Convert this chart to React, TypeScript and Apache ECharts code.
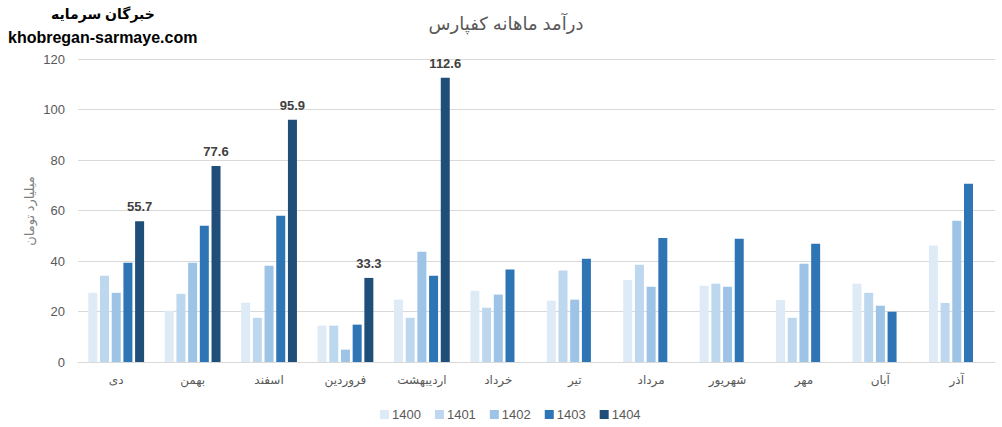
import React, { useEffect, useRef } from "react";
import * as echarts from "echarts";

const categories = ["دی", "بهمن", "اسفند", "فروردین", "اردیبهشت", "خرداد", "تیر", "مرداد", "شهریور", "مهر", "آبان", "آذر"];
const seriesNames = ["1400", "1401", "1402", "1403", "1404"];
const v1400 = [27.4, 20.3, 23.5, 14.4, 24.7, 28.2, 24.3, 32.5, 30.2, 24.6, 31.0, 46.1];
const v1401 = [34.2, 27.0, 17.5, 14.4, 17.5, 21.5, 36.2, 38.5, 31.0, 17.5, 27.4, 23.4];
const v1402 = [27.4, 39.3, 38.1, 4.9, 43.7, 26.7, 24.7, 29.8, 29.8, 38.9, 22.3, 55.9];
const v1403 = [39.3, 54.0, 57.9, 14.8, 34.2, 36.6, 40.9, 49.1, 48.8, 46.8, 19.9, 70.6];
const v1404 = [55.7, 77.6, 95.9, 33.3, 112.6, null, null, null, null, null, null, null];
const colors = ["#DEEBF7", "#BDD7EE", "#9DC3E6", "#2E75B6", "#1F4E79"];
const yTicks = [0, 20, 40, 60, 80, 100, 120];
const yAxisTitle = "میلیارد تومان";

const FONT = "'Liberation Sans', 'DejaVu Sans', sans-serif";

export default function App() {
  const ref = useRef<HTMLDivElement>(null);
  useEffect(() => {
    document.body.style.margin = "0";
    const chart = echarts.init(ref.current!, null, { renderer: "svg" });
    const all = [v1400, v1401, v1402, v1403, v1404];
    chart.setOption({
      animation: false,
      textStyle: { fontFamily: FONT },
      title: {
        text: "درآمد ماهانه کفپارس",
        left: 501,
        top: 10,
        textAlign: "center",
        textStyle: { fontSize: 18, fontWeight: "normal", color: "#595959", fontFamily: FONT },
      },
      graphic: [
        { type: "text", left: 51, top: 7, style: { text: "خبرگان سرمایه", font: "bold 14px " + FONT, fill: "#000", width: 100, align: "center" } },
        { type: "text", left: 8, top: 29, style: { text: "khobregan-sarmaye.com", font: "bold 16px " + FONT, fill: "#000" } },
        {
          type: "text",
          x: 29,
          y: 211,
          rotation: Math.PI / 2,
          style: { text: yAxisTitle, font: "13px " + FONT, fill: "#7F7F7F", align: "center", verticalAlign: "middle" },
        },
      ],
      legend: {
        data: seriesNames,
        bottom: 1,
        left: 375,
        itemWidth: 9,
        itemHeight: 9,
        itemGap: 14,
        icon: "rect",
        textStyle: { fontSize: 13, color: "#595959", fontFamily: FONT, padding: [0, 0, 0, -2] },
      },
      grid: { left: 78, right: 7, top: 59, bottom: 65, containLabel: false },
      xAxis: {
        type: "category",
        data: categories,
        axisTick: { show: false },
        axisLine: { lineStyle: { color: "#D9D9D9", width: 1 } },
        axisLabel: { fontSize: 12, color: "#595959", margin: 12, fontFamily: FONT },
      },
      yAxis: {
        type: "value",
        min: yTicks[0],
        max: yTicks[yTicks.length - 1],
        interval: 20,
        axisLine: { show: false },
        axisTick: { show: false },
        splitLine: { lineStyle: { color: "#D9D9D9", width: 1 } },
        axisLabel: { fontSize: 13, color: "#595959", margin: 13, fontFamily: FONT },
      },
      series: seriesNames.map((name, i) => ({
        name,
        type: "bar",
        data: all[i],
        barWidth: 9,
        barGap: "30%",
        itemStyle: { color: colors[i] },
        label: i === 4
          ? { show: true, position: "top", distance: 8, fontSize: 13, fontWeight: "bold", color: "#404040", fontFamily: FONT, formatter: (p: any) => p.value.toFixed(1) }
          : { show: false },
      })),
    });
    return () => chart.dispose();
  }, []);
  return <div ref={ref} style={{ width: 1002, height: 427 }} />;
}
